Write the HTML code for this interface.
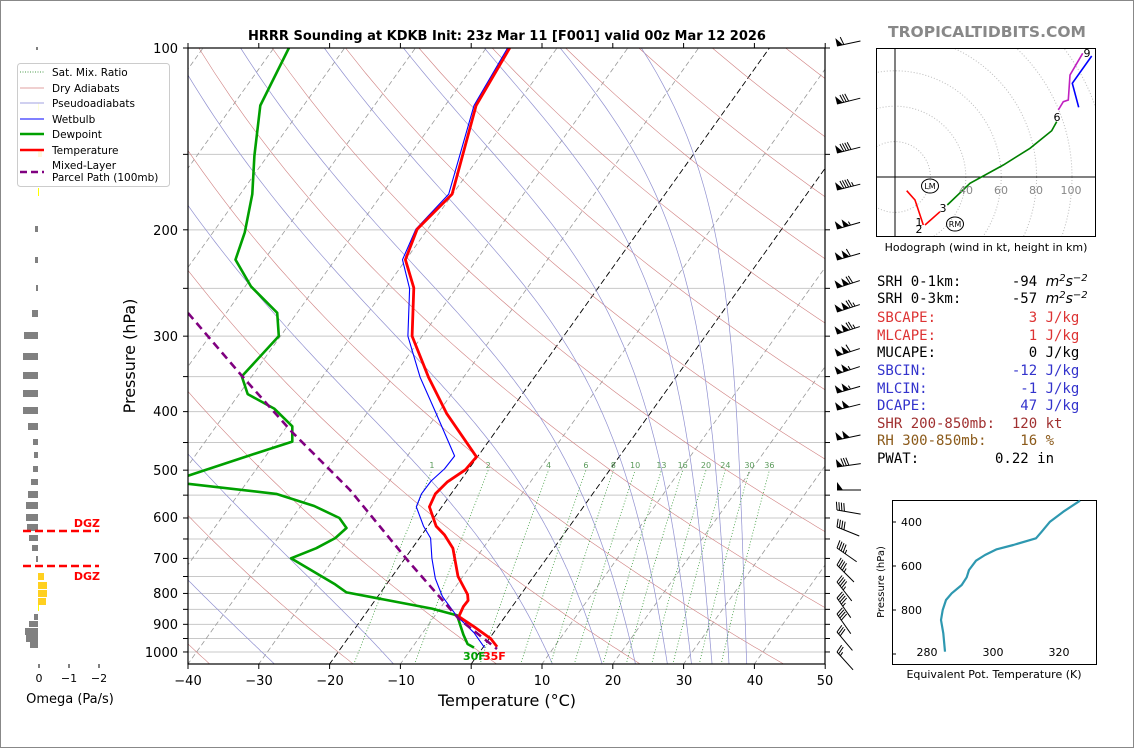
<!DOCTYPE html>
<html><head><meta charset="utf-8"><style>
html,body{margin:0;padding:0;background:#fff;}
svg{display:block;font-family:"DejaVu Sans","Liberation Sans",sans-serif;}
.mono{font-family:"DejaVu Sans Mono","Liberation Mono",monospace;font-size:14px;white-space:pre;}
</style></head><body>
<svg id="s" width="1134" height="748" viewBox="0 0 1134 748" xmlns="http://www.w3.org/2000/svg">
<rect x="0.5" y="0.5" width="1133" height="747" fill="#fff" stroke="#888" stroke-width="1"/>
<defs><clipPath id="cp"><rect x="188" y="48" width="637" height="616"/></clipPath>
<clipPath id="hc"><rect x="876" y="48" width="220" height="189"/></clipPath></defs>
<g id="bg" clip-path="url(#cp)"></g>
<g id="data" clip-path="url(#cp)" fill="none" stroke-linejoin="round">
<polyline stroke="#00a000" stroke-width="2.6" points="288.9,48 260.3,105.5 254.4,155.8 252.3,194.1 244.8,232.3 235.5,259.7 251.1,286.6 277.2,312.8 278.8,336.1 241.8,376.4 247.7,394.1 274.2,408.6 292.3,426.3 292.3,441.6 249,455.6 188,475.8 186,477 186,483 188,483.8 276.3,493.9 314.2,506 339.4,518 346.5,528 335.2,538.1 316.3,548.2 291,558.3 335.2,584.4 346.5,592.4 431.9,608.6 457.1,615.4 463.4,634.7 467.6,644 474,647.6"/>
<polyline stroke="#0000ff" stroke-width="1.1" points="507.6,48 474,105.5 448.7,194.1 415.9,229.1 402.5,259.7 409.6,288.6 407.9,336.1 420.1,377.2 436.1,413.4 454.6,456 444.5,468.9 431.1,481 421.4,493.9 416.3,506.8 423.5,526.1 430.6,538.1 431.9,558.3 435.3,578.4 442.4,596.5 456.3,615.4 474,632.7 484.5,647.6"/>
<polyline stroke="#ff0000" stroke-width="2.8" points="509.7,48 476.1,105.5 452.1,194.1 417.2,229.1 405.4,259.7 413.8,287.8 412.1,336.1 428.5,377.2 446.6,413.4 476.5,456.9 465.5,469.7 447.5,481.8 435.3,493.9 429.4,506.8 436.1,526.1 444.5,534.9 452.9,548.2 458,576.4 467.6,594.5 468.1,600.5 463.4,606.5 458.8,616.6 474,626.7 490.8,638.7 497.1,646.8"/>
<polyline stroke="#800080" stroke-width="2.6" stroke-dasharray="8,5" points="188,313 242,376 292,432 350,490 409,562 459,619 497,649"/>
</g>
<text x="463" y="660" font-size="11" font-weight="bold" fill="#00a000">30F</text>
<text x="483" y="660" font-size="11" font-weight="bold" fill="#ff0000">35F</text>
<g id="mrl" font-size="8" fill="#5a9a5a" text-anchor="middle"></g>
<rect x="188" y="48" width="637" height="616" fill="none" stroke="#000" stroke-width="1.2"/>
<g id="ax"></g>
<text x="507" y="40" font-size="13" font-weight="bold" text-anchor="middle">HRRR Sounding at KDKB Init: 23z Mar 11 [F001] valid 00z Mar 12 2026</text>
<text x="987" y="37" font-size="15.5" font-weight="bold" fill="#888" text-anchor="middle">TROPICALTIDBITS.COM</text>
<text x="507" y="706" font-size="16" text-anchor="middle">Temperature (°C)</text>
<text transform="translate(135,356) rotate(-90)" font-size="16" text-anchor="middle">Pressure (hPa)</text>
<g font-size="13" text-anchor="end">
<text x="178" y="53">100</text><text x="178" y="235">200</text><text x="178" y="341">300</text><text x="178" y="416">400</text><text x="178" y="475">500</text><text x="178" y="522">600</text><text x="178" y="563">700</text><text x="178" y="598">800</text><text x="178" y="629">900</text><text x="178" y="657">1000</text>
</g>
<g font-size="13" text-anchor="middle">
<text x="188" y="685">−40</text><text x="259" y="685">−30</text><text x="330" y="685">−20</text><text x="401" y="685">−10</text><text x="471" y="685">0</text><text x="542" y="685">10</text><text x="613" y="685">20</text><text x="684" y="685">30</text><text x="755" y="685">40</text><text x="825" y="685">50</text>
</g>
<g id="barbs"></g>
<g fill="#808080">
<rect x="36" y="47" width="2" height="3"/>
<rect x="35" y="226" width="3" height="6"/><rect x="35" y="257" width="3" height="6"/><rect x="36" y="285" width="2" height="6"/>
<rect x="32" y="310" width="6" height="7"/><rect x="24" y="332" width="14" height="7"/><rect x="23" y="353" width="15" height="7"/><rect x="23" y="372" width="15" height="7"/><rect x="23" y="390" width="15" height="7"/><rect x="23" y="407" width="15" height="7"/><rect x="28" y="423" width="10" height="7"/><rect x="33" y="439" width="5" height="6"/><rect x="34" y="452" width="4" height="6"/><rect x="33" y="466" width="5" height="6"/><rect x="31" y="479" width="7" height="6"/><rect x="28" y="491" width="10" height="7"/><rect x="26" y="502" width="12" height="7"/><rect x="26" y="514" width="12" height="7"/><rect x="27" y="524" width="11" height="7"/><rect x="29" y="535" width="9" height="6"/><rect x="32" y="545" width="6" height="6"/><rect x="36" y="556" width="2" height="6"/>
<rect x="34" y="614" width="4" height="6"/><rect x="29" y="621" width="9" height="6"/><rect x="25" y="628" width="13" height="7"/><rect x="26" y="635" width="12" height="7"/><rect x="30" y="642" width="8" height="6"/>
</g>
<g fill="#ffd020">
<rect x="38" y="103" width="1" height="8" fill="#ff0"/><rect x="38" y="149" width="4" height="8"/><rect x="38" y="188" width="1" height="8" fill="#ff0"/>
<rect x="38" y="573" width="6" height="7"/><rect x="38" y="582" width="9" height="7"/><rect x="38" y="590" width="9" height="7"/><rect x="38" y="598" width="8" height="7"/><rect x="38" y="605" width="1" height="6" fill="#ff0"/>
</g>
<g stroke="#ff0000" stroke-width="2.5" stroke-dasharray="8,4"><line x1="23" y1="531" x2="99" y2="531"/><line x1="23" y1="566" x2="99" y2="566"/></g>
<g font-size="11" font-weight="bold" fill="#ff0000" text-anchor="end"><text x="100" y="527">DGZ</text><text x="100" y="580">DGZ</text></g>
<g stroke="#000" stroke-width="1"><line x1="39" y1="664" x2="39" y2="668"/><line x1="69" y1="664" x2="69" y2="668"/><line x1="99" y1="664" x2="99" y2="668"/></g>
<g font-size="11" text-anchor="middle"><text x="39" y="682">0</text><text x="69" y="682">−1</text><text x="99" y="682">−2</text></g>
<text x="70" y="703" font-size="13" text-anchor="middle">Omega (Pa/s)</text>
<rect x="17.5" y="63.5" width="152" height="123" rx="3" fill="#fff" fill-opacity="0.85" stroke="#ccc"/>
<g stroke-width="1">
<line x1="20" y1="72" x2="44" y2="72" stroke="#4a9a4a" stroke-dasharray="1,1.5"/>
<line x1="20" y1="88" x2="44" y2="88" stroke="#e0a0a0"/>
<line x1="20" y1="103" x2="44" y2="103" stroke="#a0a0e0"/>
<line x1="20" y1="119" x2="44" y2="119" stroke="#0000ff"/>
<line x1="20" y1="134" x2="44" y2="134" stroke="#00a000" stroke-width="2.6"/>
<line x1="20" y1="150" x2="44" y2="150" stroke="#ff0000" stroke-width="2.6"/>
<line x1="20" y1="172" x2="44" y2="172" stroke="#800080" stroke-width="2.6" stroke-dasharray="7,4"/>
</g>
<g font-size="10.5"><text x="52" y="76">Sat. Mix. Ratio</text><text x="52" y="92">Dry Adiabats</text><text x="52" y="107">Pseudoadiabats</text><text x="52" y="123">Wetbulb</text><text x="52" y="138">Dewpoint</text><text x="52" y="154">Temperature</text><text x="52" y="169">Mixed-Layer</text><text x="52" y="181">Parcel Path (100mb)</text></g>
<g clip-path="url(#hc)" fill="none">
<g stroke="#bbb" stroke-dasharray="1,2" id="rings"></g>
<line x1="895" y1="48" x2="895" y2="237" stroke="#000"/><line x1="876" y1="177" x2="1096" y2="177" stroke="#000"/>
<g stroke-width="1.6">
<polyline stroke="#ff0000" points="906.7,190.7 915,200 920,215 923.3,225"/>
<polyline stroke="#ff0000" points="925,225 940,211.7"/>
<polyline stroke="#008000" points="947.3,205 970,183.3 1003.3,165 1030,148.3 1051.7,130.7 1056.7,121.7"/>
<polyline stroke="#c020c0" points="1058.3,110 1063.3,101.7 1068.3,100 1070,75 1082.7,53.3"/>
<polyline stroke="#0000ff" points="1091.7,56 1072.3,83.3 1078.7,107.3"/>
</g>
<ellipse cx="930" cy="186" rx="8.5" ry="7" stroke="#000"/><ellipse cx="955" cy="224" rx="8.5" ry="7" stroke="#000"/>
</g>
<g font-size="11" fill="#888" text-anchor="middle"><text x="966" y="194">40</text><text x="1001" y="194">60</text><text x="1036" y="194">80</text><text x="1071" y="194">100</text></g>
<g font-size="8" text-anchor="middle"><text x="930" y="189">LM</text><text x="955" y="227">RM</text></g>
<g font-size="11" text-anchor="middle"><text x="919" y="226">1</text><text x="919" y="233">2</text><text x="943" y="212">3</text><text x="1057" y="121">6</text><text x="1087" y="57">9</text></g>
<rect x="876.5" y="48.5" width="219" height="188" fill="none" stroke="#000"/>
<text x="986" y="251" font-size="11" text-anchor="middle">Hodograph (wind in kt, height in km)</text>
<text class="mono" x="877" y="286">SRH 0-1km:      -94 <tspan font-style="italic" font-family="DejaVu Sans,sans-serif">m<tspan dy="-5" font-size="10">2</tspan><tspan dy="5">s</tspan><tspan dy="-5" font-size="10">−2</tspan></tspan></text>
<text class="mono" x="877" y="303">SRH 0-3km:      -57 <tspan font-style="italic" font-family="DejaVu Sans,sans-serif">m<tspan dy="-5" font-size="10">2</tspan><tspan dy="5">s</tspan><tspan dy="-5" font-size="10">−2</tspan></tspan></text>
<text class="mono" x="877" y="322" fill="#dd3333">SBCAPE:           3 J/kg</text>
<text class="mono" x="877" y="340" fill="#dd3333">MLCAPE:           1 J/kg</text>
<text class="mono" x="877" y="357">MUCAPE:           0 J/kg</text>
<text class="mono" x="877" y="375" fill="#3333cc">SBCIN:          -12 J/kg</text>
<text class="mono" x="877" y="393" fill="#3333cc">MLCIN:           -1 J/kg</text>
<text class="mono" x="877" y="410" fill="#3333cc">DCAPE:           47 J/kg</text>
<text class="mono" x="877" y="428" fill="#a03030">SHR 200-850mb:  120 kt</text>
<text class="mono" x="877" y="445" fill="#8b5a1a">RH 300-850mb:    16 %</text>
<text class="mono" x="877" y="463">PWAT:         0.22 in</text>
<rect x="892.5" y="500.5" width="204" height="164" fill="none" stroke="#000"/>
<polyline fill="none" stroke="#2e98b0" stroke-width="2.2" stroke-linejoin="round" points="945,651.7 943.3,633.3 941,620 942.7,610 946,600 951.7,593.3 961.7,585 966.7,577.3 969,570 976,560.7 985,555 996.7,549.3 1013.3,545 1036,538.3 1041.7,531.7 1050,521.7 1063.3,511.7 1080,500.7"/>
<g stroke="#000"><line x1="892" y1="522" x2="896" y2="522"/><line x1="892" y1="566" x2="896" y2="566"/><line x1="892" y1="610" x2="896" y2="610"/><line x1="892" y1="654" x2="896" y2="654"/></g>
<g font-size="11"><text x="901" y="526">400</text><text x="901" y="570">600</text><text x="901" y="614">800</text></g>
<g font-size="11" text-anchor="middle"><text x="927" y="656">280</text><text x="993" y="656">300</text><text x="1059" y="656">320</text></g>
<text transform="translate(884,582) rotate(-90)" font-size="10" text-anchor="middle">Pressure (hPa)</text>
<text x="994" y="678" font-size="11" text-anchor="middle">Equivalent Pot. Temperature (K)</text>
</svg>
<script>
(function(){
var NS="http://www.w3.org/2000/svg";
function el(t,a,p){var e=document.createElementNS(NS,t);for(var k in a)e.setAttribute(k,a[k]);p.appendChild(e);return e;}
function Y(p){return 48+262.3*Math.log(p/100);}
function X(T,p){return 188+(T+40)*7.08+(664-Y(p))*0.714;}
var bg=document.getElementById('bg');
var ps=[];for(var p=1050;p>=100;p-=10)ps.push(p);
function line(pts,st){var s=pts.map(function(q){return q[0].toFixed(1)+','+q[1].toFixed(1)}).join(' ');el('polyline',Object.assign({points:s,fill:'none'},st),bg);}
for(var p=100;p<=1000;p+=50){el('line',{x1:188,x2:825,y1:Y(p),y2:Y(p),stroke:'#c8c8c8','stroke-width':1},bg);}
for(var T=-120;T<=50;T+=10){var blk=(T==0||T==-20);el('line',{x1:X(T,1050),y1:Y(1050),x2:X(T,100),y2:Y(100),stroke:blk?'#000':'#999','stroke-width':blk?0.9:0.8,'stroke-dasharray':blk?'6,3':'5,3'},bg);}
for(var t0=-60;t0<=260;t0+=20){var th=t0+273.15,pts=[];ps.forEach(function(p){var T=th*Math.pow(p/1000,0.2857)-273.15;pts.push([X(T,p),Y(p)]);});line(pts,{stroke:'#d08080','stroke-width':0.6});}
function es(Tc){return 6.112*Math.exp(17.67*Tc/(Tc+243.5));}
[-27.6,-10.8,11.6,18.6,23.3,27.8,31.2,34.1,36.5,39].forEach(function(t){var T=t+273.15,p=1050,pts=[[X(t,p),Y(p)]];while(p>100){var Tc=T-273.15,e=es(Tc),rs=0.622*e/(p-e);var d=(287.04*T+2.501e6*rs)/(1005.7+2.501e6*2.501e6*rs*0.622/(287.04*T*T))/p;T-=d*5;p-=5;pts.push([X(T-273.15,p),Y(p)]);}line(pts,{stroke:'#9090d0','stroke-width':0.7});});
var mg=document.getElementById('mrl');
[1,2,4,6,8,10,13,16,20,24,30,36].forEach(function(w){var pts=[];for(var p=1050;p>=500;p-=10){var e=w*p/(622+w),l=Math.log(e/6.112),Td=243.5*l/(17.67-l);pts.push([X(Td,p),Y(p)]);}line(pts,{stroke:'#3a9a3a','stroke-width':0.8,'stroke-dasharray':'1,2'});var q=pts[pts.length-1];var tx=el('text',{x:q[0],y:468},mg);tx.textContent=w;});
var ax=document.getElementById('ax');
for(var p=100;p<=1000;p+=50){var y=Y(p);el('line',{x1:183,x2:188,y1:y,y2:y,stroke:'#000'},ax);el('line',{x1:825,x2:830,y1:y,y2:y,stroke:'#000'},ax);}
for(var T=-40;T<=50;T+=10){var x=188+(T+40)*7.08;el('line',{x1:x,x2:x,y1:664,y2:669,stroke:'#000'},ax);el('line',{x1:x,x2:x,y1:43,y2:48,stroke:'#000'},ax);}
var rg=document.getElementById('rings');
for(var r=20;r<=140;r+=20){el('circle',{cx:895,cy:177,r:r*1.77},rg);}
var bb=document.getElementById('barbs');
var B=[[46,-12,60],[104,-14,80],[153,-14,90],[190,-14,95],[229,-16,105],[260,-16,110],[288,-18,120],[312,-18,125],[334,-18,125],[356,-18,110],[374,-18,105],[393,-16,105],[410,-14,100],[440,-12,100],[467,-8,80],[490,0,50],[510,10,40],[527,22,40],[548,35,45],[565,45,45],[582,52,45],[598,55,45],[614,55,40],[632,50,30],[652,48,25]];
B.forEach(function(b){var x0=837,y0=b[0],a=b[1]*Math.PI/180,L=24,ux=Math.cos(a),uy=Math.sin(a),nx=uy,ny=-ux;
 el('line',{x1:x0,y1:y0,x2:x0+ux*L,y2:y0+uy*L,stroke:'#000','stroke-width':1},bb);
 var s=b[2],pos=0;var flags=Math.floor(s/50);s-=flags*50;
 for(var i=0;i<flags;i++){var a1=pos,a2=pos+6;el('polygon',{points:(x0+ux*a1)+','+(y0+uy*a1)+' '+(x0+ux*a1+nx*8)+','+(y0+uy*a1+ny*8)+' '+(x0+ux*a2)+','+(y0+uy*a2),fill:'#000'},bb);pos+=7;}
 var full=Math.floor(s/10);s-=full*10;
 for(var i=0;i<full;i++){el('line',{x1:x0+ux*pos,y1:y0+uy*pos,x2:x0+ux*(pos-2)+nx*8,y2:y0+uy*(pos-2)+ny*8,stroke:'#000','stroke-width':1},bb);pos+=2.5;}
 if(s>=5){el('line',{x1:x0+ux*pos,y1:y0+uy*pos,x2:x0+ux*(pos-1)+nx*4,y2:y0+uy*(pos-1)+ny*4,stroke:'#000','stroke-width':1},bb);}
});
})();
</script>
</body></html>
